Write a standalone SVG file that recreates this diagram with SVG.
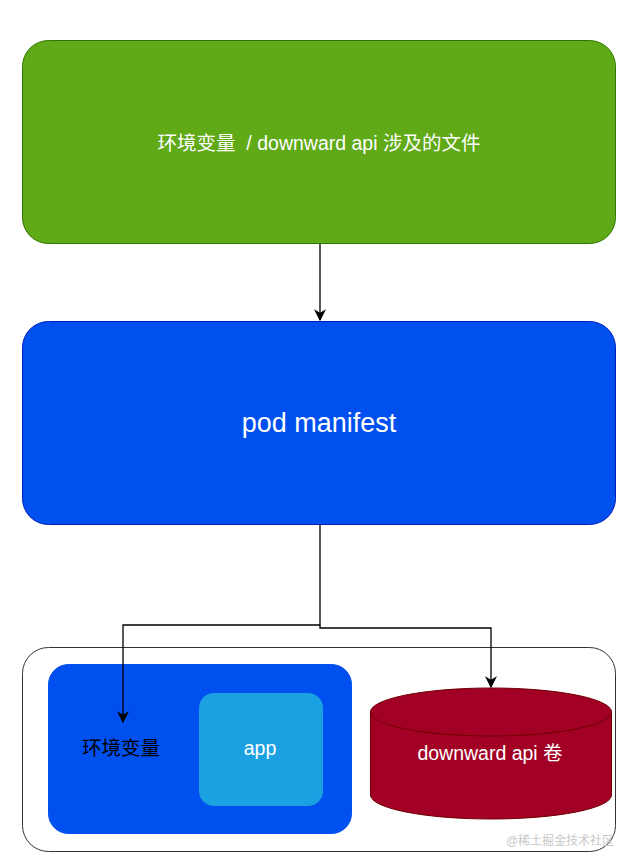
<svg xmlns="http://www.w3.org/2000/svg" width="625" height="856" viewBox="0 0 625 856">
<defs>
<style>
text{font-family:"Liberation Sans","Noto Sans CJK SC",sans-serif;text-anchor:middle;dominant-baseline:central}
.w{fill:#ffffff}
.conn{fill:none;stroke:#000;stroke-width:1.3}
</style>
<marker id="arr" viewBox="0 0 10 10" refX="9" refY="5" markerWidth="12" markerHeight="12" markerUnits="userSpaceOnUse" orient="auto">
<path d="M0,0 L10,5 L0,10 L3,5 Z" fill="#000"/>
</marker>
</defs>
<rect width="625" height="856" fill="#fff"/>
<g id="files">
<rect x="22.5" y="40.5" width="593" height="203" rx="26" fill="#60a917" stroke="#2d7600"/>
<text class="w" x="319" y="143" font-size="19.5" style="white-space:pre">环境变量  / downward api 涉及的文件</text>
</g>
<g id="pod-manifest">
<rect x="22.5" y="321.5" width="593" height="203" rx="26" fill="#0050ef" stroke="#001dbc"/>
<text class="w" x="319" y="423" font-size="27">pod manifest</text>
</g>
<g id="pod">
<rect x="22.5" y="647.5" width="593" height="204" rx="26" fill="#fff" stroke="#333"/>
</g>
<g id="container">
<rect x="48.5" y="664.5" width="303" height="169" rx="20" fill="#0050ef" stroke="#0050ef"/>
<text x="121" y="748" font-size="19.5" fill="#000">环境变量</text>
</g>
<g id="app">
<rect x="199.5" y="693.5" width="123" height="112" rx="14" fill="#1ba1e2" stroke="#1ba1e2"/>
<text class="w" x="260" y="748" font-size="19.5">app</text>
</g>
<g id="volume">
<path d="M370.5,712 A120.5,24 0 0 1 611.5,712 L611.5,795 A120.5,24 0 0 1 370.5,795 Z" fill="#a20025" stroke="#6f0000"/>
<path d="M370.5,712 A120.5,24 0 0 0 611.5,712" fill="none" stroke="#6f0000"/>
<text class="w" x="490" y="753" font-size="19.5">downward api 卷</text>
</g>
<g id="connectors">
<path class="conn" d="M320,244 L320,320" marker-end="url(#arr)"/>
<path class="conn" d="M320,525 L320,625 L123,625 L123,722" marker-end="url(#arr)"/>
<path class="conn" d="M320,625 L320,628 L491,628 L491,687" marker-end="url(#arr)"/>
</g>
<text x="560" y="841" font-size="12" fill="#c8c8c8">@稀土掘金技术社区</text>
</svg>
